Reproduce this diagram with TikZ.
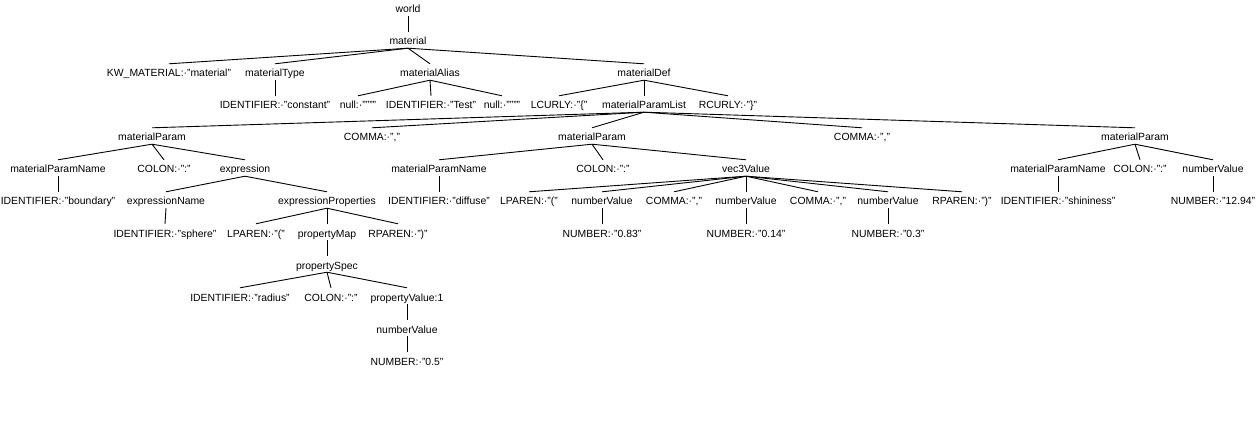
\documentclass[tikz,border=0pt]{standalone}
\usepackage{fontspec}
\setmainfont{Liberation Sans}
\usepackage{tikz}
\usepackage{xcolor}
\definecolor{ptline}{RGB}{0, 0, 0}
\tikzset{
    ptnode/.style={anchor=base, inner xsep=1pt, inner ysep=2pt, text height=11pt, text depth=1pt,
        font=\fontsize{10.4}{12}\selectfont},
    ptedge/.style={draw=ptline, line width=0.9pt}
}
\begin{document}
\begin{tikzpicture}[x=1pt, y=-32pt]
    \useasboundingbox (0,-0.40625) rectangle (1258,13.125);
    \node[ptnode] (world) at (408,0) {world};
    \node[ptnode] (material) at (408,1) {material};
    \node[ptnode] (kwMaterial) at (169,2) {KW\_MATERIAL:·"material"};
    \node[ptnode] (matType) at (275,2) {materialType};
    \node[ptnode] (matAlias) at (430,2) {materialAlias};
    \node[ptnode] (matDef) at (644,2) {materialDef};
    \node[ptnode] (idConstant) at (275,3) {IDENTIFIER:·"constant"};
    \node[ptnode] (nullA) at (358,3) {null:·""""};
    \node[ptnode] (idTest) at (431,3) {IDENTIFIER:·"Test"};
    \node[ptnode] (nullB) at (502,3) {null:·""""};
    \node[ptnode] (lCurly) at (559,3) {LCURLY:·"\{"};
    \node[ptnode] (paramList) at (644,3) {materialParamList};
    \node[ptnode] (rCurly) at (728,3) {RCURLY:·"\}"};
    \node[ptnode] (paramA) at (152,4) {materialParam};
    \node[ptnode] (commaA) at (372,4) {COMMA:·","};
    \node[ptnode] (paramB) at (592,4) {materialParam};
    \node[ptnode] (commaB) at (862,4) {COMMA:·","};
    \node[ptnode] (paramC) at (1135,4) {materialParam};
    \node[ptnode] (nameA) at (58,5) {materialParamName};
    \node[ptnode] (colonA) at (164,5) {COLON:·":"};
    \node[ptnode] (expr) at (245,5) {expression};
    \node[ptnode] (nameB) at (439,5) {materialParamName};
    \node[ptnode] (colonB) at (603,5) {COLON:·":"};
    \node[ptnode] (vecVal) at (746,5) {vec3Value};
    \node[ptnode] (nameC) at (1058,5) {materialParamName};
    \node[ptnode] (colonC) at (1140,5) {COLON:·":"};
    \node[ptnode] (numValC) at (1213,5) {numberValue};
    \node[ptnode] (idBoundary) at (58,6) {IDENTIFIER:·"boundary"};
    \node[ptnode] (exprName) at (166,6) {expressionName};
    \node[ptnode] (exprProps) at (327,6) {expressionProperties};
    \node[ptnode] (idDiffuse) at (439,6) {IDENTIFIER:·"diffuse"};
    \node[ptnode] (lParenB) at (529,6) {LPAREN:·"("};
    \node[ptnode] (numValX) at (602,6) {numberValue};
    \node[ptnode] (commaX) at (674,6) {COMMA:·","};
    \node[ptnode] (numValY) at (746,6) {numberValue};
    \node[ptnode] (commaY) at (818,6) {COMMA:·","};
    \node[ptnode] (numValZ) at (888,6) {numberValue};
    \node[ptnode] (rParenB) at (962,6) {RPAREN:·")"};
    \node[ptnode] (idShininess) at (1058,6) {IDENTIFIER:·"shininess"};
    \node[ptnode] (numShininess) at (1213,6) {NUMBER:·"12.94"};
    \node[ptnode] (idSphere) at (165,7) {IDENTIFIER:·"sphere"};
    \node[ptnode] (lParenA) at (256,7) {LPAREN:·"("};
    \node[ptnode] (propMap) at (327,7) {propertyMap};
    \node[ptnode] (rParenA) at (398,7) {RPAREN:·")"};
    \node[ptnode] (numX) at (602,7) {NUMBER:·"0.83"};
    \node[ptnode] (numY) at (746,7) {NUMBER:·"0.14"};
    \node[ptnode] (numZ) at (888,7) {NUMBER:·"0.3"};
    \node[ptnode] (propSpec) at (327,8) {propertySpec};
    \node[ptnode] (idRadius) at (240,9) {IDENTIFIER:·"radius"};
    \node[ptnode] (colonD) at (331,9) {COLON:·":"};
    \node[ptnode] (propVal) at (407,9) {propertyValue:1};
    \node[ptnode] (numValR) at (407,10) {numberValue};
    \node[ptnode] (numRadius) at (407,11) {NUMBER:·"0.5"};
    \foreach \p/\cs in {world/{material}, material/{kwMaterial,matType,matAlias,matDef},
        matType/{idConstant}, matAlias/{nullA,idTest,nullB}, matDef/{lCurly,paramList,rCurly},
        paramList/{paramA,commaA,paramB,commaB,paramC},
        paramA/{nameA,colonA,expr}, nameA/{idBoundary}, expr/{exprName,exprProps},
        exprName/{idSphere}, exprProps/{lParenA,propMap,rParenA}, propMap/{propSpec},
        propSpec/{idRadius,colonD,propVal}, propVal/{numValR}, numValR/{numRadius},
        paramB/{nameB,colonB,vecVal}, nameB/{idDiffuse},
        vecVal/{lParenB,numValX,commaX,numValY,commaY,numValZ,rParenB},
        numValX/{numX}, numValY/{numY}, numValZ/{numZ},
        paramC/{nameC,colonC,numValC}, nameC/{idShininess}, numValC/{numShininess}}
        \foreach \c in \cs
            \draw[ptedge] (\p.south) -- (\c.north);
\end{tikzpicture}
\end{document}
